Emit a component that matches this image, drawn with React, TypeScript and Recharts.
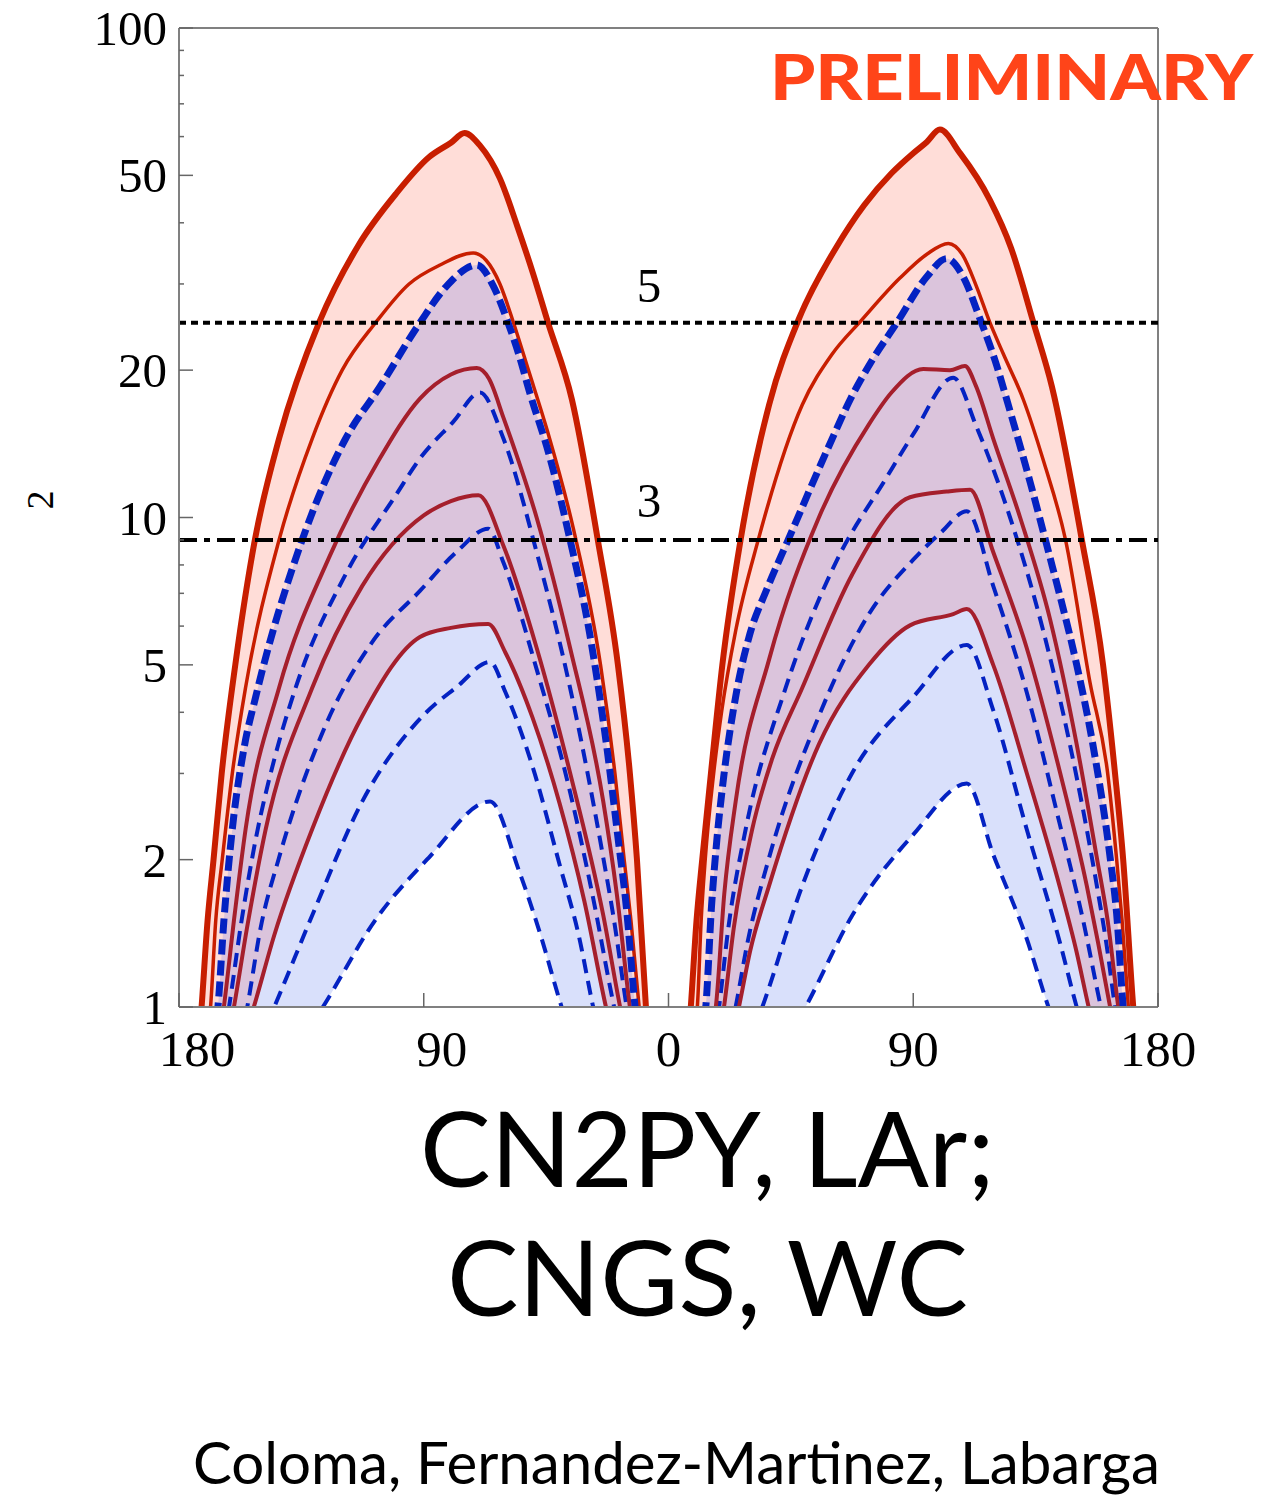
import React from "react";
import { ComposedChart, Line, Area, XAxis, YAxis, ReferenceLine } from "recharts";

// ---------- axes ----------
const X_TICKS = [-180, -90, 0, 90, 180];
const Y_TICKS = [1, 2, 3, 4, 5, 6, 7, 8, 9, 10, 20, 30, 40, 50, 60, 70, 80, 90, 100];
const Y_MAJOR = [1, 2, 5, 10, 20, 50, 100];
const SIGMA5 = 25;
const SIGMA3 = 9;
const FLOOR = 0.4; // below the visible range (curves drop to ~0 at CP-conserving values)

// ---------- curves: [delta (deg), delta chi^2] ----------
// outer thick red
const R1_L = [[-171.7,1],[-169.5,1.5],[-167.3,2],[-164.3,3],[-159.3,5],[-152.1,9],[-143.2,14.5],[-128.5,25],[-114,36],[-100,46],[-88,54.5],[-80,58.3],[-75,61],[-69.3,57.5],[-62,49.3],[-55.7,39.5],[-49.8,31.5],[-44.3,25],[-35.5,17.4],[-26,9],[-18.6,5],[-14.2,3],[-11.6,2],[-8.3,1]];
const R1_R = [[8.2,1],[10.3,1.5],[12.4,2],[15.6,3],[19.8,5],[26.5,9],[37,17],[48,25.5],[61.5,35.5],[72,43.5],[82,50.5],[90,55.5],[95,58.5],[99.8,62],[107.2,55.5],[118.2,44.5],[126,35.5],[134.2,25],[141,18.5],[152,9],[159.8,5],[164.2,3],[167.2,2],[170.9,1]];
// thin red
const R2_L = [[-168.4,1],[-166.5,1.5],[-164.1,2],[-160.4,3],[-155.5,4.5],[-143.2,9],[-131,14.5],[-120,20],[-107.7,25],[-95.4,30],[-84,32.8],[-71.8,34.7],[-67,33.5],[-62,30],[-57,25],[-51.5,20],[-44.5,15],[-35,9.5],[-25,5],[-19.7,3],[-16.3,2],[-13.8,1.5],[-10.8,1]];
const R2_R = [[10.6,1],[12,1.5],[13.5,2],[16.6,3],[19.5,4],[24.7,5.87],[33,9],[49.2,17],[60,21.5],[71,25.3],[85,30.8],[95,34.5],[102.9,36.3],[108,34.5],[113.3,29.6],[118.2,25],[123.1,21.6],[130.5,17.4],[137.8,13.1],[146,9],[155,4.6],[161.5,3],[164.8,2],[166.8,1.5],[169.1,1]];
// thick blue dashed
const B1_L = [[-165.7,1],[-163.5,1.5],[-160.4,2.31],[-156,3.4],[-151.8,4.3],[-134.7,9],[-118.7,14.5],[-106.1,18.5],[-91.4,25],[-81.6,29.7],[-70.5,32.8],[-64.4,29.7],[-59,25],[-55,21.5],[-50.9,17.9],[-44,13.5],[-36.2,9],[-29,5.8],[-23,3.5],[-18.5,2.2],[-15.5,1.6],[-12.3,1]];
const B1_R = [[13.7,1],[15.8,1.6],[17.8,2.2],[19.8,2.8],[25,4.4],[30,5.8],[36,7.1],[44,9],[59,14],[67,17.5],[75,21],[84,25],[94.9,31],[102.3,33.8],[108.4,31],[114.5,25.5],[120,21],[125.6,16.5],[133,11.8],[140,8.4],[144,6.9],[150.1,5],[156.2,3.4],[162.4,2.02],[164.8,1.55],[167.2,1]];
// crimson (peak ~20)
const C1_L = [[-163.5,1],[-159.5,1.55],[-155.5,2.31],[-143.2,4.49],[-124.8,8.29],[-106.5,13.1],[-91.4,17.5],[-80,19.6],[-70.5,20.2],[-66,19.2],[-60.7,16],[-48.5,10],[-36.2,5.42],[-24,2.63],[-19,1.7],[-14.2,1]];
const C1_R = [[17.4,1],[20.5,1.7],[24.7,2.63],[37,5.13],[55.3,10],[73.7,15.5],[82,18],[93.7,20.1],[103.5,20],[109,20.4],[113,18.6],[119.4,14.5],[129.3,10],[140.3,6.2],[150.1,3.44],[157.5,2.02],[161.5,1.5],[165.4,1]];
// blue dashed (peak ~18)
const B2_L = [[-161.6,1],[-157,1.5],[-151.8,2.2],[-145,3.2],[-137.1,4.49],[-118.7,7.66],[-100.3,11.1],[-91.4,13.2],[-79.1,15.7],[-69.3,18],[-60.7,14.5],[-48.5,8.5],[-36.2,4.49],[-24,2.02],[-20,1.5],[-15.4,1]];
const B2_R = [[18.6,1],[22,1.45],[28.4,2.31],[43.1,4.49],[61.5,8.09],[79.9,12],[90,14.8],[104.7,19.3],[113.3,15.3],[125.6,10],[137.8,5.87],[147.6,3.44],[157.5,1.77],[161,1.35],[164.2,1]];
// crimson (peak ~11)
const C2_L = [[-159.8,1],[-155,1.45],[-148.1,2.31],[-131,4.49],[-112.6,7.25],[-90,10.1],[-80,10.8],[-69.9,11.1],[-60.7,8.76],[-48.5,5.42],[-36.2,3.01],[-24,1.54],[-17.8,1]];
const C2_R = [[20.4,1],[24,1.45],[30.8,2.31],[38,3.2],[49.2,4.49],[67.6,7.66],[88.8,11],[102.3,11.3],[110.9,11.4],[119.4,8.5],[131.7,5.42],[144,3.01],[153.8,1.77],[158,1.35],[162.4,1]];
// blue dashed (peak ~9.5)
const B3_L = [[-154.9,1],[-150,1.45],[-143.2,2.02],[-127.3,3.63],[-108.9,5.57],[-91.4,7.08],[-78,8.5],[-66.3,9.49],[-60.7,8.09],[-48.5,4.9],[-36.2,2.75],[-28,1.7],[-20,1]];
const B3_R = [[24.7,1],[29,1.35],[37,2.02],[55.3,3.93],[73.7,6.35],[90,8.2],[100,9.3],[109.7,10.3],[119.4,7.25],[131.7,4.4],[144,2.35],[152.5,1.5],[159,1]];
// crimson (peak ~6)
const C3_L = [[-152.5,1],[-145,1.4],[-131,2.31],[-112.6,3.93],[-91.4,5.7],[-80,5.95],[-66.3,6.06],[-60,5.3],[-50,3.9],[-40,2.6],[-31,1.65],[-23,1]];
const C3_R = [[25.9,1],[30,1.3],[37,1.77],[55.3,3.44],[73.7,5],[88.8,6.02],[104.7,6.35],[109.7,6.5],[119.4,5],[131.7,3.01],[144,1.75],[150,1.3],[154.5,1]];
// blue dashed (peak ~5)
const B4_L = [[-145,1],[-131,1.54],[-112.6,2.63],[-90,3.95],[-78,4.5],[-65.6,5.07],[-60,4.4],[-50,3.1],[-40,1.95],[-33,1.4],[-27.7,1]];
const B4_R = [[34.5,1],[49.2,1.77],[67.6,3.01],[90,4.3],[109.7,5.49],[119.4,4.04],[131.7,2.31],[144,1.35],[150.1,1]];
// blue dashed (peak ~2.6)
const B5_L = [[-127.1,1],[-108,1.5],[-88.1,2.02],[-65.6,2.63],[-55,1.9],[-47,1.4],[-39.3,1]];
const B5_R = [[50.4,1],[67.6,1.54],[90,2.25],[109.7,2.86],[119.4,2.05],[131.7,1.38],[139.7,1]];

const build = (left: number[][], right: number[][]) =>
  [[-180, FLOOR], ...left, [0, FLOOR], ...right, [180, FLOOR]].map(([x, y]) => ({ x, y }));

const R1 = build(R1_L, R1_R);
const R2 = build(R2_L, R2_R);
const B1 = build(B1_L, B1_R);
const C1 = build(C1_L, C1_R);
const B2 = build(B2_L, B2_R);
const C2 = build(C2_L, C2_R);
const B3 = build(B3_L, B3_R);
const C3 = build(C3_L, C3_R);
const B4 = build(B4_L, B4_R);
const B5 = build(B5_L, B5_R);
const LINE5 = [{ x: -180, y: SIGMA5 }, { x: 180, y: SIGMA5 }];
const LINE3 = [{ x: -180, y: SIGMA3 }, { x: 180, y: SIGMA3 }];

const RED = "#C81E00";
const CRIMSON = "#A51F2C";
const BLUE = "#0422C2";
const PINK = "#FFDDD8";
const PURPLE = "#DBC4DC";
const LIGHTBLUE = "#D9E0FB";
const AXIS = "#808080";
const SERIF = "'Liberation Serif', 'Times New Roman', serif";
const SANS = "Lato, 'Open Sans', sans-serif";

function YTick(props: any) {
  const { x, y, payload } = props;
  const v = payload.value;
  const major = Y_MAJOR.includes(v);
  return (
    <g>
      <line x1={x + 12} x2={x + 12 + (major ? 14 : 5)} y1={y} y2={y} stroke="#666" strokeWidth={1.5} />
      {major && (
        <text x={x} y={y + 17} textAnchor="end" fontFamily={SERIF} fontSize={49} fill="#000">
          {v}
        </text>
      )}
    </g>
  );
}

function XTick(props: any) {
  const { x, y, payload } = props;
  const v = payload.value;
  return (
    <g>
      <line x1={x} x2={x} y1={y} y2={y - 14} stroke="#666" strokeWidth={1.5} />
      <text x={x + (v < 0 ? 18 : 0)} y={y + 59} textAnchor="middle" fontFamily={SERIF} fontSize={51} fill="#000">
        {Math.abs(v)}
      </text>
    </g>
  );
}

const areaProps = { dataKey: "y", type: "monotone" as const, stroke: "none", fillOpacity: 1, baseValue: 1, isAnimationActive: false, dot: false, activeDot: false };
const lineProps = { dataKey: "y", type: "monotone" as const, dot: false, activeDot: false, isAnimationActive: false };

export default function App() {
  return (
    <div style={{ position: "relative", width: 1272, height: 1496, background: "#fff", overflow: "hidden" }}>
      <style>{"body{margin:0}"}</style>
      <div style={{ position: "absolute", left: 0, top: 0 }}>
        <ComposedChart width={1272} height={1100} margin={{ top: 28, right: 114, bottom: 33, left: 0 }}>
          <XAxis
            dataKey="x"
            type="number"
            domain={[-180, 180]}
            ticks={X_TICKS}
            interval={0}
            allowDataOverflow
            height={60}
            tickSize={0}
            tickMargin={0}
            tickLine={false}
            axisLine={{ stroke: AXIS, strokeWidth: 2 }}
            tick={(p: any) => <XTick {...p} />}
          />
          <YAxis
            type="number"
            scale="log"
            domain={[1, 100]}
            ticks={Y_TICKS}
            interval={0}
            allowDataOverflow
            width={179}
            tickSize={0}
            tickMargin={12}
            tickLine={false}
            axisLine={{ stroke: AXIS, strokeWidth: 2 }}
            tick={(p: any) => <YTick {...p} />}
          />
          <ReferenceLine y={100} stroke={AXIS} strokeWidth={2} ifOverflow="visible" />
          <ReferenceLine x={180} stroke={AXIS} strokeWidth={2} ifOverflow="visible" />

          <Area {...areaProps} data={R1} fill={PINK} />
          <Area {...areaProps} data={B1} fill={PURPLE} />
          <Area {...areaProps} data={C3} fill={LIGHTBLUE} />
          <Area {...areaProps} data={B5} fill="#FFFFFF" />

          <Line {...lineProps} data={B5} stroke={BLUE} strokeWidth={4} strokeDasharray="14 8" />
          <Line {...lineProps} data={B4} stroke={BLUE} strokeWidth={4} strokeDasharray="14 8" />
          <Line {...lineProps} data={B3} stroke={BLUE} strokeWidth={4} strokeDasharray="14 8" />
          <Line {...lineProps} data={B2} stroke={BLUE} strokeWidth={4} strokeDasharray="14 8" />
          <Line {...lineProps} data={C3} stroke={CRIMSON} strokeWidth={4} />
          <Line {...lineProps} data={C2} stroke={CRIMSON} strokeWidth={4} />
          <Line {...lineProps} data={C1} stroke={CRIMSON} strokeWidth={4} />
          <Line {...lineProps} data={R2} stroke={RED} strokeWidth={3.5} />
          <Line {...lineProps} data={B1} stroke={BLUE} strokeWidth={7} strokeDasharray="15 6" />
          <Line {...lineProps} data={R1} stroke={RED} strokeWidth={6} />

          <Line {...lineProps} type="linear" data={LINE5} stroke="#000" strokeWidth={4} strokeDasharray="7 5" />
          <Line {...lineProps} type="linear" data={LINE3} stroke="#000" strokeWidth={4} strokeDasharray="18 7 6 7" />
        </ComposedChart>
      </div>
      <svg width={1272} height={1496} style={{ position: "absolute", left: 0, top: 0, pointerEvents: "none" }}>
        <text x={770} y={100} fontFamily={SANS} fontWeight={900} fontSize={62} fill="#FF4419" textLength={483} lengthAdjust="spacingAndGlyphs">
          PRELIMINARY
        </text>
        <text x={649} y={302} textAnchor="middle" fontFamily={SERIF} fontSize={49} fill="#000">5</text>
        <text x={649} y={517} textAnchor="middle" fontFamily={SERIF} fontSize={49} fill="#000">3</text>
        <text x={40} y={500} textAnchor="middle" dominantBaseline="central" fontFamily={SERIF} fontSize={38} fill="#000" transform="rotate(-90 40 500)">2</text>
        <text x={420} y={1187} fontFamily={SANS} fontSize={104} fill="#000" textLength={575} lengthAdjust="spacingAndGlyphs">CN2PY, LAr;</text>
        <text x={447} y={1316} fontFamily={SANS} fontSize={104} fill="#000" textLength={521} lengthAdjust="spacingAndGlyphs">CNGS, WC</text>
        <text x={193} y={1484} fontFamily={SANS} fontSize={58} fill="#000" textLength={967} lengthAdjust="spacingAndGlyphs">Coloma, Fernandez-Martinez, Labarga</text>
      </svg>
    </div>
  );
}
